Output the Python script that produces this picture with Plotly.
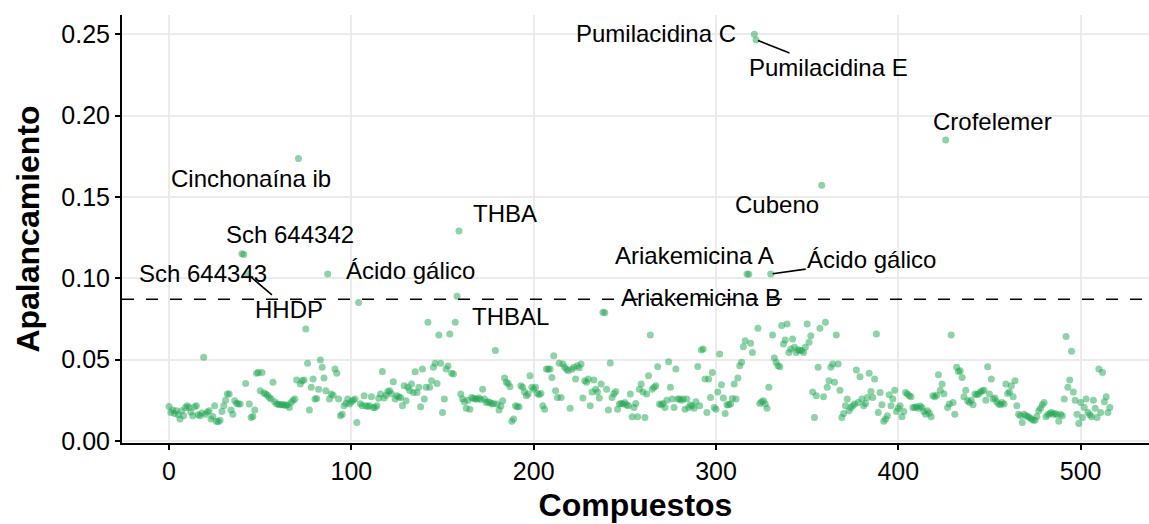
import plotly.graph_objects as go

# Leverage (apalancamiento) of each compound, in compound order 0..516
leverage = [
    0.0212, 0.0175, 0.0190, 0.0168, 0.0185, 0.0160, 0.0134, 0.0185, 0.0154, 0.0205,
    0.0216, 0.0205, 0.0178, 0.0154, 0.0210, 0.0216, 0.0160, 0.0154, 0.0172, 0.0514,
    0.0164, 0.0178, 0.0185, 0.0134, 0.0150, 0.0216, 0.0120, 0.0118, 0.0127, 0.0180,
    0.0216, 0.0250, 0.0288, 0.0288, 0.0190, 0.0164, 0.0246, 0.0232, 0.0226, 0.0226,
    0.1150, 0.1145, 0.0353, 0.1026, 0.0226, 0.0144, 0.0150, 0.0190, 0.0415, 0.0421,
    0.0308, 0.0420, 0.0295, 0.0288, 0.0280, 0.0267, 0.0257, 0.0360, 0.0240, 0.0226,
    0.0225, 0.0222, 0.0222, 0.0222, 0.0218, 0.0222, 0.0205, 0.0236, 0.0250, 0.0257,
    0.0374, 0.1736, 0.0349, 0.0370, 0.0374, 0.0688, 0.0477, 0.0190, 0.0329, 0.0380,
    0.0257, 0.0260, 0.0318, 0.0497, 0.0452, 0.0386, 0.0308, 0.1026, 0.0257, 0.0288,
    0.0280, 0.0442, 0.0415, 0.0257, 0.0154, 0.0164, 0.0216, 0.0232, 0.0257, 0.0226,
    0.0240, 0.0250, 0.0257, 0.0113, 0.0850, 0.0228, 0.0216, 0.0277, 0.0216, 0.0212,
    0.0216, 0.0271, 0.0205, 0.0205, 0.0216, 0.0262, 0.0288, 0.0427, 0.0263, 0.0280,
    0.0304, 0.0308, 0.0290, 0.0364, 0.0257, 0.0277, 0.0270, 0.0267, 0.0216, 0.0339,
    0.0246, 0.0329, 0.0310, 0.0349, 0.0298, 0.0425, 0.0298, 0.0330, 0.0210, 0.0442,
    0.0257, 0.0329, 0.0729, 0.0330, 0.0370, 0.0452, 0.0477, 0.0353, 0.0651, 0.0477,
    0.0175, 0.0257, 0.0442, 0.0460, 0.0657, 0.0415, 0.0411, 0.0729, 0.0889, 0.1290,
    0.0288, 0.0257, 0.0240, 0.0201, 0.0250, 0.0195, 0.0267, 0.0260, 0.0257, 0.0257,
    0.0263, 0.0255, 0.0318, 0.0257, 0.0236, 0.0240, 0.0236, 0.0226, 0.0230, 0.0555,
    0.0226, 0.0190, 0.0215, 0.0246, 0.0386, 0.0360, 0.0353, 0.0333, 0.0120, 0.0134,
    0.0216, 0.0210, 0.0210, 0.0339, 0.0329, 0.0300, 0.0277, 0.0288, 0.0400, 0.0329,
    0.0318, 0.0330, 0.0292, 0.0285, 0.0292, 0.0216, 0.0195, 0.0442, 0.0440, 0.0442,
    0.0390, 0.0524, 0.0308, 0.0267, 0.0477, 0.0267, 0.0472, 0.0452, 0.0440, 0.0431,
    0.0201, 0.0440, 0.0452, 0.0380, 0.0462, 0.0450, 0.0472, 0.0263, 0.0370, 0.0360,
    0.0380, 0.0216, 0.0300, 0.0374, 0.0318, 0.0300, 0.0263, 0.0349, 0.0790, 0.0788,
    0.0318, 0.0190, 0.0479, 0.0267, 0.0290, 0.0304, 0.0195, 0.0226, 0.0230, 0.0226,
    0.0236, 0.0220, 0.0216, 0.0288, 0.0148, 0.0205, 0.0230, 0.0148, 0.0318, 0.0349,
    0.0300, 0.0144, 0.0288, 0.0400, 0.0651, 0.0318, 0.0329, 0.0339, 0.0456, 0.0226,
    0.0222, 0.0230, 0.0205, 0.0250, 0.0487, 0.0329, 0.0257, 0.0205, 0.0442, 0.0257,
    0.0257, 0.0250, 0.0257, 0.0195, 0.0257, 0.0205, 0.0220, 0.0216, 0.0201, 0.0240,
    0.0458, 0.0216, 0.0559, 0.0565, 0.0380, 0.0175, 0.0380, 0.0267, 0.0421, 0.0205,
    0.0195, 0.0300, 0.0534, 0.0345, 0.0263, 0.0168, 0.0222, 0.0222, 0.0226, 0.0260,
    0.0349, 0.0257, 0.0386, 0.0462, 0.0483, 0.0579, 0.0616, 0.1026, 0.1024, 0.0600,
    0.0544, 0.2500, 0.2465, 0.0692, 0.0230, 0.0240, 0.0246, 0.0226, 0.0201, 0.0329,
    0.1026, 0.0651, 0.0509, 0.0483, 0.0462, 0.0456, 0.0709, 0.0596, 0.0620, 0.0719,
    0.0544, 0.0565, 0.0627, 0.0575, 0.0544, 0.0560, 0.0555, 0.0555, 0.0544, 0.0575,
    0.0719, 0.0606, 0.0647, 0.0300, 0.0144, 0.0277, 0.0452, 0.0692, 0.1572, 0.0271,
    0.0729, 0.0329, 0.0370, 0.0452, 0.0472, 0.0360, 0.0651, 0.0472, 0.0312, 0.0144,
    0.0168, 0.0216, 0.0257, 0.0185, 0.0205, 0.0216, 0.0226, 0.0436, 0.0236, 0.0394,
    0.0257, 0.0216, 0.0230, 0.0267, 0.0415, 0.0304, 0.0267, 0.0380, 0.0657, 0.0175,
    0.0298, 0.0222, 0.0120, 0.0134, 0.0154, 0.0283, 0.0216, 0.0257, 0.0312, 0.0181,
    0.0200, 0.0216, 0.0148, 0.0181, 0.0298, 0.0288, 0.0277, 0.0271, 0.0205, 0.0205,
    0.0210, 0.0201, 0.0215, 0.0205, 0.0181, 0.0164, 0.0185, 0.0170, 0.0148, 0.0277,
    0.0271, 0.0280, 0.0407, 0.0312, 0.0349, 0.0290, 0.1849, 0.0205, 0.0226, 0.0651,
    0.0236, 0.0164, 0.0452, 0.0427, 0.0431, 0.0390, 0.0271, 0.0312, 0.0246, 0.0236,
    0.0250, 0.0222, 0.0288, 0.0283, 0.0288, 0.0300, 0.0308, 0.0312, 0.0250, 0.0456,
    0.0288, 0.0380, 0.0257, 0.0263, 0.0240, 0.0226, 0.0222, 0.0236, 0.0226, 0.0349,
    0.0292, 0.0300, 0.0339, 0.0271, 0.0370, 0.0216, 0.0164, 0.0154, 0.0113, 0.0164,
    0.0154, 0.0150, 0.0144, 0.0134, 0.0127, 0.0127, 0.0150, 0.0185, 0.0201, 0.0222,
    0.0236, 0.0148, 0.0160, 0.0168, 0.0175, 0.0164, 0.0168, 0.0160, 0.0120, 0.0164,
    0.0154, 0.0257, 0.0641, 0.0329, 0.0374, 0.0551, 0.0300, 0.0250, 0.0164, 0.0107,
    0.0236, 0.0144, 0.0205, 0.0257, 0.0175, 0.0160, 0.0148, 0.0250, 0.0201, 0.0144,
    0.0442, 0.0175, 0.0421, 0.0240, 0.0271, 0.0175, 0.0205,
]
compound_idx = list(range(len(leverage)))

# Leverage threshold (dashed line)
h_threshold = 0.087

# Named compounds above the threshold, with label offsets in pixels
label_idx = [321, 322, 426, 358, 71, 159, 40, 41, 43, 87, 158, 317, 318, 330]
label_names = ["Pumilacidina C", "Pumilacidina E", "Crofelemer", "Cubeno",
               "Cinchonaína ib", "THBA", "Sch 644342", "Sch 644343", "HHDP",
               "Ácido gálico", "THBAL", "Ariakemicina A", "Ariakemicina B",
               "Ácido gálico"]
label_dx = [-98, 72, 47, -45, -47, 46, 48, -41, 42, 83, 53, -52, -48, 101]
label_dy = [-1, 28, -19, 19, 20, -18, -19, 19, 36, -3, 20, -18, 23, -14]
label_seg = [False, True, False, False, False, False, False, False, True,
             False, False, False, False, True]

FONT = "Liberation Sans, Arial, sans-serif"

fig = go.Figure()
fig.add_trace(go.Scatter(
    x=compound_idx, y=leverage, mode="markers",
    marker=dict(size=7, color="rgb(30,165,80)", opacity=0.5, line=dict(width=0)),
    hoverinfo="x+y", showlegend=False,
))

fig.add_shape(type="line", xref="paper", x0=0, x1=1, yref="y",
              y0=h_threshold, y1=h_threshold,
              line=dict(color="black", width=1.5, dash="12px,12px"))

for i, name, dx, dy, seg in zip(label_idx, label_names, label_dx, label_dy, label_seg):
    common = dict(x=i, y=leverage[i], text=name,
                  font=dict(family=FONT, size=24, color="black"))
    if seg:
        fig.add_annotation(**common, showarrow=True, arrowhead=0, arrowwidth=1.6,
                           arrowcolor="black", ax=dx, ay=dy, standoff=2)
    else:
        fig.add_annotation(**common, showarrow=False, xshift=dx, yshift=-dy)

axis_common = dict(
    showline=True, linecolor="black", linewidth=2,
    ticks="outside", ticklen=5, tickwidth=1.5, tickcolor="black",
    gridcolor="#ebebeb", gridwidth=1.5, zeroline=False,
    tickfont=dict(family=FONT, size=25, color="black"),
)

fig.update_xaxes(
    **axis_common, range=[-25.8, 537.5], tickvals=[0, 100, 200, 300, 400, 500],
    title=dict(text="<b>Compuestos</b>", font=dict(family=FONT, size=32, color="black"),
               standoff=10),
)
fig.update_yaxes(
    **axis_common, range=[-0.0013, 0.2618],
    tickvals=[0, 0.05, 0.10, 0.15, 0.20, 0.25], tickformat=".2f",
    title=dict(text="<b>Apalancamiento</b>", font=dict(family=FONT, size=32, color="black"),
               standoff=12),
)

fig.update_layout(
    width=1149, height=524,
    margin=dict(l=122, r=0, t=15, b=81),
    plot_bgcolor="white", paper_bgcolor="white",
)

fig.write_html("out.html")
